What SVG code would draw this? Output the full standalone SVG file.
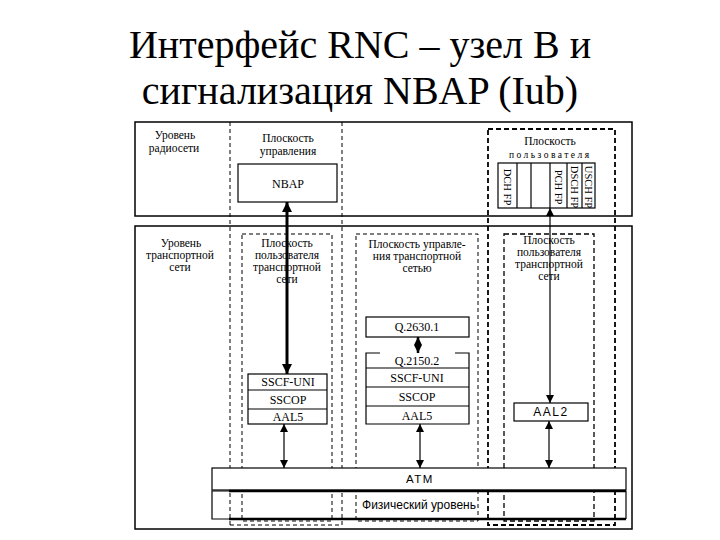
<svg xmlns="http://www.w3.org/2000/svg" width="720" height="540" viewBox="0 0 720 540">
<style>
.t{font-family:"Liberation Serif","DejaVu Serif","Noto Serif",serif;fill:#000}
.s{font-family:"Liberation Sans",Arial,sans-serif;fill:#000}
.title{font-size:40px;text-anchor:middle}
.lb{font-size:11.5px;text-anchor:middle}
.st{font-size:12px;text-anchor:middle}
.fr{fill:none;stroke:#000;stroke-width:1.5}
.bx{fill:#fff;stroke:#000;stroke-width:1.2}
.dl{fill:none;stroke:#000;stroke-width:1;stroke-dasharray:4 3}
.dk{fill:none;stroke:#000;stroke-width:1.8;stroke-dasharray:5 3}
.ln{stroke:#000;stroke-width:1.2}
.cn{fill:none;stroke:#000;stroke-width:1.2}
.cnb{fill:none;stroke:#000;stroke-width:3}
</style>
<defs>
<marker id="ah" viewBox="0 0 10 10" refX="10" refY="5" markerWidth="8" markerHeight="9" markerUnits="userSpaceOnUse" orient="auto-start-reverse"><path d="M0,0 L10,5 L0,10 z" fill="#000"/></marker>
<marker id="ahL" viewBox="0 0 10 10" refX="10" refY="5" markerWidth="10" markerHeight="11" markerUnits="userSpaceOnUse" orient="auto-start-reverse"><path d="M0,0 L10,5 L0,10 z" fill="#000"/></marker>
</defs>
<rect width="720" height="540" fill="#fff"/>
<g id="title">
<text class="t title" font-family="Liberation Serif, DejaVu Serif, serif" x="360" y="58">Интерфейс RNC – узел B и</text>
<text class="t title" font-family="Liberation Serif, DejaVu Serif, serif" x="360" y="104">сигнализация NBAP (Iub)</text>
</g>
<g id="radio-layer">
<rect class="fr" x="135" y="122" width="497" height="94"/>
<text class="t lb" x="175" y="139">Уровень</text>
<text class="t lb" x="174" y="152">радиосети</text>
</g>
<g id="transport-layer">
<rect class="fr" x="135" y="226" width="497" height="303"/>
<text class="t lb" x="181" y="247">Уровень</text>
<text class="t lb" x="180" y="259">транспортной</text>
<text class="t lb" x="180" y="271">сети</text>
</g>
<g id="control-plane">
<line class="dl" x1="230" y1="122" x2="230" y2="525"/>
<line class="dl" x1="342" y1="122" x2="342" y2="525"/>
<line class="dl" x1="230" y1="525" x2="342" y2="525"/>
<text class="t lb" x="288" y="142">Плоскость</text>
<text class="t lb" x="288" y="155">управления</text>
</g>
<g id="user-plane">
<rect class="dk" x="488" y="129" width="127" height="396"/>
<text class="t lb" x="550" y="145">Плоскость</text>
<text class="t" x="509" y="158" font-size="9.5" textLength="80" lengthAdjust="spacing">пользователя</text>
</g>
<g id="transport-user-left">
<rect class="dl" x="242" y="234" width="90" height="287"/>
<text class="t lb" x="287" y="247">Плоскость</text>
<text class="t lb" x="287" y="259">пользователя</text>
<text class="t lb" x="287" y="271">транспортной</text>
<text class="t lb" x="287" y="283">сети</text>
</g>
<g id="transport-control">
<rect class="dl" x="356" y="234" width="122" height="287"/>
<text class="t lb" x="417" y="248">Плоскость управле-</text>
<text class="t lb" x="417" y="260">ния транспортной</text>
<text class="t lb" x="417" y="272">сетью</text>
</g>
<g id="transport-user-right">
<rect class="dk" x="504" y="234" width="90" height="287" style="stroke-width:1.3"/>
<text class="t lb" x="549" y="244">Плоскость</text>
<text class="t lb" x="549" y="256">пользователя</text>
<text class="t lb" x="549" y="268">транспортной</text>
<text class="t lb" x="549" y="280">сети</text>
</g>
<g id="nbap">
<rect class="bx" x="238" y="164" width="99" height="38"/>
<text class="t st" x="288" y="188">NBAP</text>
</g>
<g id="fp-stack">
<rect class="bx" x="498" y="163" width="97" height="45"/>
<line class="ln" x1="517" y1="163" x2="517" y2="208"/>
<line class="ln" x1="531" y1="163" x2="531" y2="208"/>
<line class="ln" x1="550" y1="163" x2="550" y2="208"/>
<line class="ln" x1="567" y1="163" x2="567" y2="208"/>
<line class="ln" x1="582" y1="163" x2="582" y2="208"/>
<text class="t" font-size="10.5" text-anchor="middle" transform="translate(504,187) rotate(90)">DCH FP</text>
<text class="t" font-size="10.5" text-anchor="middle" transform="translate(555,187) rotate(90)">PCH FP</text>
<text class="t" font-size="10.5" text-anchor="middle" transform="translate(571,187) rotate(90)">DSCH FP</text>
<text class="t" font-size="10.5" text-anchor="middle" transform="translate(585,187) rotate(90)">USCH FP</text>
</g>
<g id="left-stack">
<rect class="bx" x="248" y="374" width="79" height="50"/>
<line class="ln" x1="248" y1="390" x2="327" y2="390"/>
<line class="ln" x1="248" y1="409" x2="327" y2="409"/>
<text class="t st" x="288" y="386">SSCF-UNI</text>
<text class="t st" x="288" y="404">SSCOP</text>
<text class="t st" x="288" y="421">AAL5</text>
</g>
<g id="q2630">
<rect class="bx" x="366" y="317" width="103" height="20"/>
<text class="t st" x="417" y="331">Q.2630.1</text>
</g>
<g id="mid-stack">
<path class="cn" d="M380,353 H366 V424 H469 V353 H455"/>
<line class="ln" x1="366" y1="368" x2="469" y2="368"/>
<line class="ln" x1="366" y1="387" x2="469" y2="387"/>
<line class="ln" x1="366" y1="406" x2="469" y2="406"/>
<text class="t st" x="417" y="365">Q.2150.2</text>
<text class="t st" x="417" y="382">SSCF-UNI</text>
<text class="t st" x="417" y="401">SSCOP</text>
<text class="t st" x="417" y="420">AAL5</text>
</g>
<g id="aal2">
<rect class="bx" x="514" y="403" width="74" height="18"/>
<text class="s" font-size="12" text-anchor="middle" letter-spacing="1.5" x="551" y="416">AAL2</text>
</g>
<g id="atm">
<rect class="bx" x="212" y="468" width="414" height="22"/>
<text class="s" font-size="11.5" text-anchor="middle" letter-spacing="1.5" x="420" y="483">АТМ</text>
</g>
<g id="physical">
<path class="cn" d="M229,491 H212 V519 H229"/>
<line stroke="#000" stroke-width="2.5" x1="229" y1="491" x2="626" y2="491"/>
<line stroke="#000" stroke-width="2.5" x1="229" y1="519" x2="626" y2="519"/>
<line class="ln" x1="626" y1="491" x2="626" y2="519"/>
<text class="s" font-size="12" text-anchor="middle" x="419" y="509">Физический уровень</text>
</g>
<g id="connectors">
<line class="cnb" x1="287" y1="202" x2="287" y2="374" marker-start="url(#ahL)" marker-end="url(#ahL)"/>
<line class="cn" x1="284" y1="424" x2="284" y2="468" marker-start="url(#ah)" marker-end="url(#ah)"/>
<line class="cnb" x1="418" y1="337" x2="418" y2="353" marker-start="url(#ah)" marker-end="url(#ah)" style="stroke-width:2.5"/>
<line class="cn" x1="420" y1="424" x2="420" y2="468" marker-start="url(#ah)" marker-end="url(#ah)"/>
<line class="cn" x1="550" y1="208" x2="550" y2="403" marker-start="url(#ah)" marker-end="url(#ah)"/>
<line class="cn" x1="549" y1="421" x2="549" y2="468" marker-start="url(#ah)" marker-end="url(#ah)"/>
</g>
</svg>
